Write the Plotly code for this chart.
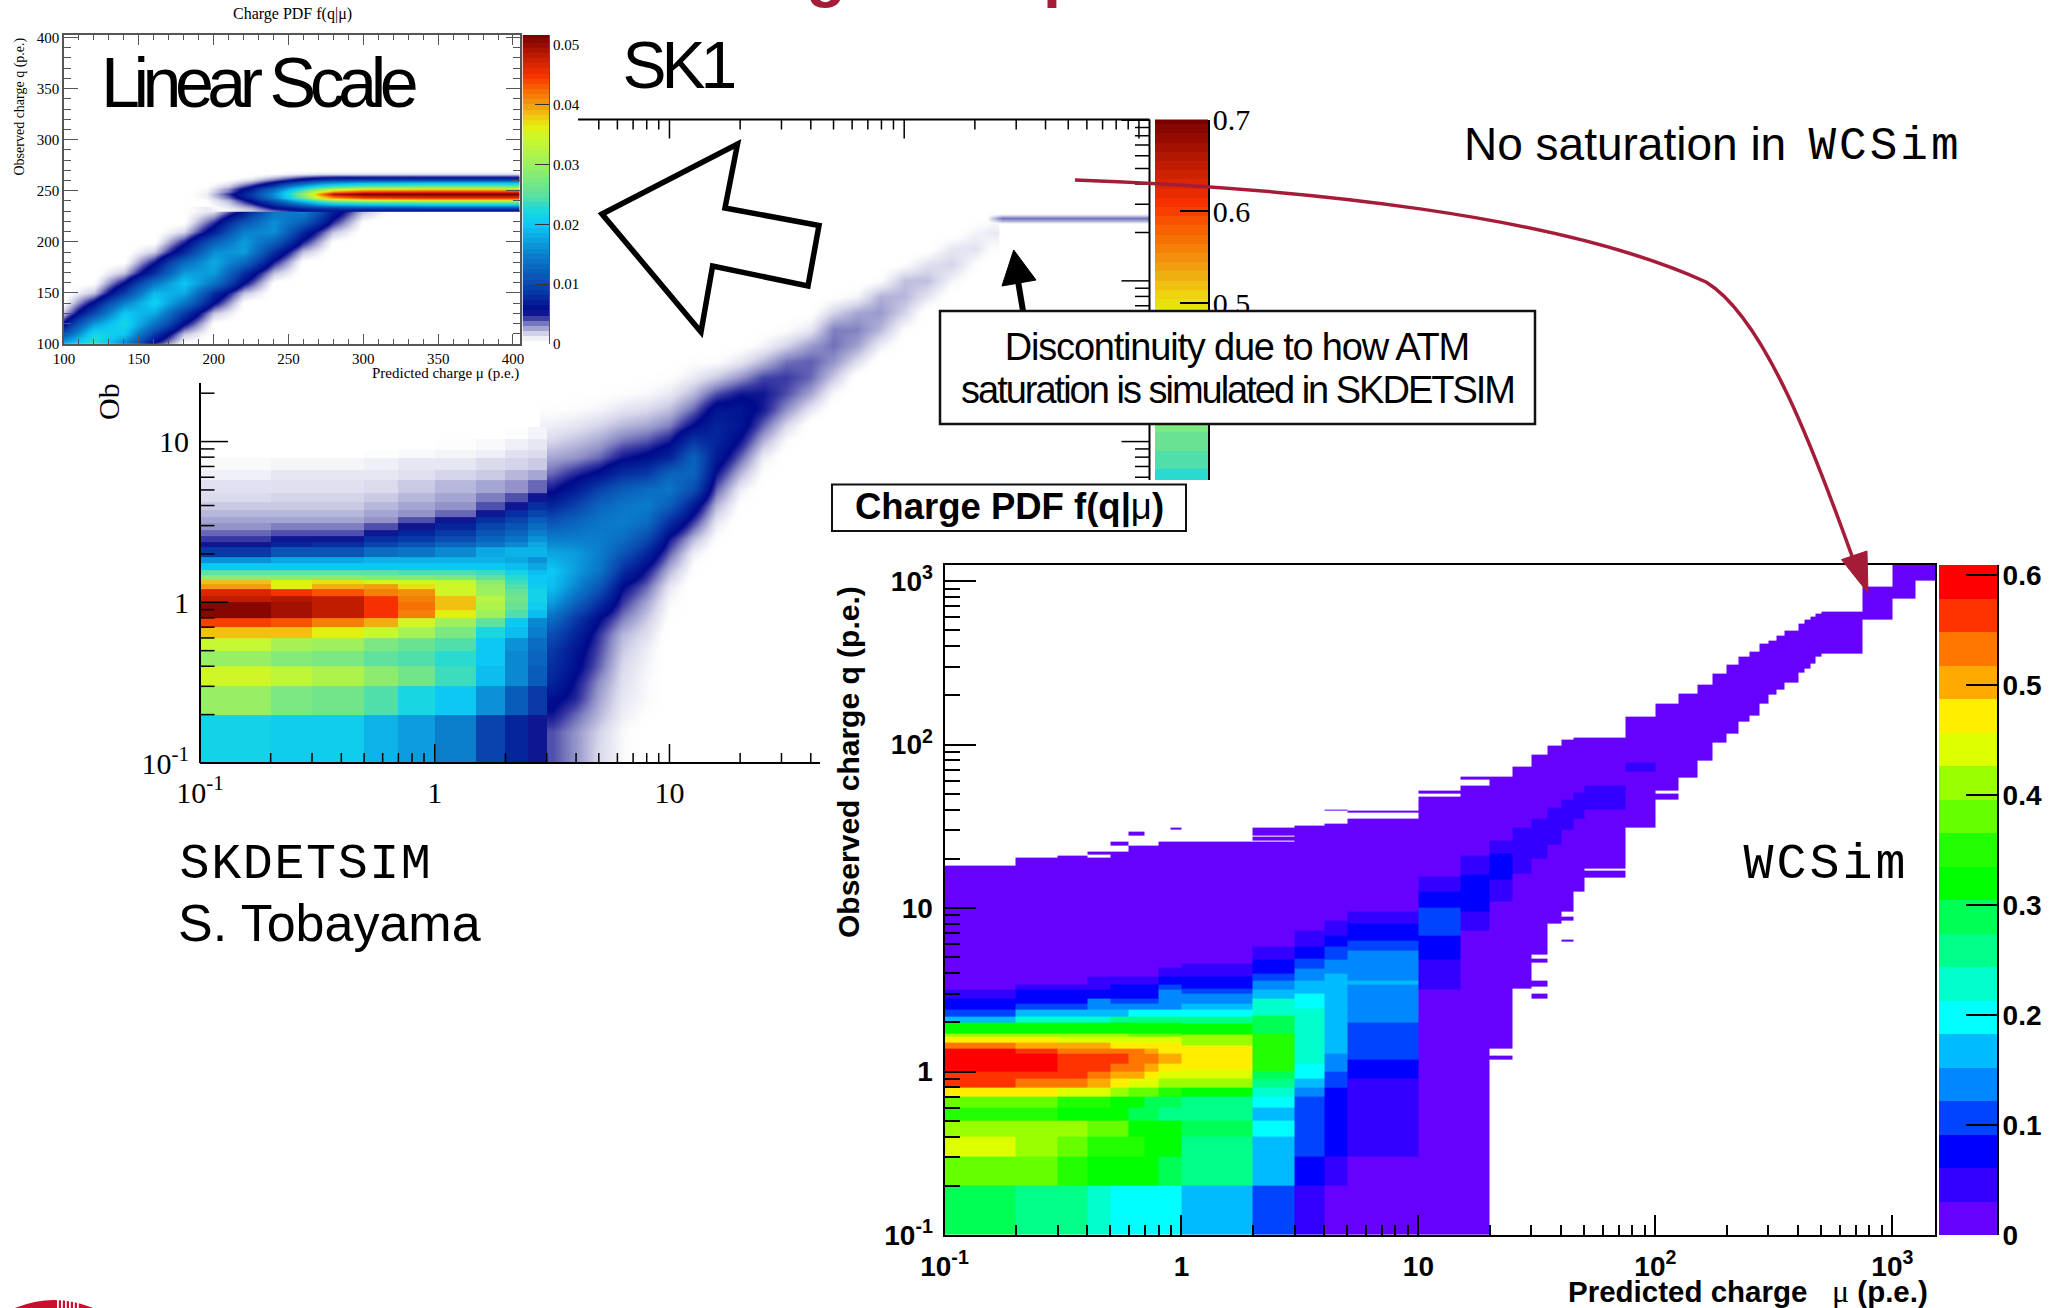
import numpy as np
import plotly.graph_objects as go

W, H = 2058, 1308

# ---------- linear-scale SK1 panel ----------
A_LOW_MU = [100,120,140,160,180,200,220,240,260,280,300,320]
A_LOW_Q = [100,110,120,130,140,150,160,170,180,190,200,210,220,229.5]
A_LOW_Z = [
 [.019,.024,.015,.005,.0002,0,0,0,0,0,0,0],
 [.011,.022,.020,.009,.002,0,0,0,0,0,0,0],
 [.006,.017,.022,.014,.0055,.0002,0,0,0,0,0,0],
 [.002,.010,.020,.018,.009,.002,0,0,0,0,0,0],
 [.0003,.006,.015,.021,.014,.0055,.0002,0,0,0,0,0],
 [0,.002,.009,.019,.018,.008,.002,0,0,0,0,0],
 [0,.0003,.0055,.014,.02,.014,.0055,.0002,0,0,0,0],
 [0,0,.002,.008,.017,.017,.008,.002,0,0,0,0],
 [0,0,.0002,.005,.013,.018,.013,.005,.0002,0,0,0],
 [0,0,0,.0018,.0075,.016,.017,.008,.002,0,0,0],
 [0,0,0,.0002,.0048,.012,.017,.012,.005,.0003,0,0],
 [0,0,0,0,.0016,.007,.015,.016,.0075,.002,0,0],
 [0,0,0,0,.0002,.0045,.011,.016,.012,.0048,.0004,0],
 [0,0,0,0,.0002,.0015,.0065,.014,.015,.007,.002,0],
]
A_HIGH_MU = [180,195,210,225,240,250,260,270,280,300,340,404]
A_HIGH_Q = [230.5,233,236.5,239,241,243,247,249.5,252,254,257.6,261,264,267,272]
A_HIGH_Z = [
 [0,.0001,.0007,.0018,.0035,.0045,.0055,.006,.006,.0058,.0055,.0055],
 [0,.0001,.001,.0025,.0055,.0065,.008,.009,.0095,.01,.01,.01],
 [0,.0003,.0015,.004,.0075,.010,.013,.016,.018,.019,.02,.02],
 [0,.0004,.002,.0055,.010,.014,.018,.022,.025,.026,.027,.027],
 [0,.0005,.0025,.0065,.012,.017,.022,.027,.031,.035,.037,.037],
 [0,.0008,.0035,.008,.015,.021,.027,.035,.04,.044,.045,.045],
 [0,.001,.0045,.009,.016,.022,.029,.04,.049,.052,.052,.052],
 [0,.0008,.0035,.008,.015,.021,.027,.035,.041,.045,.046,.046],
 [0,.0006,.003,.007,.013,.018,.023,.028,.032,.036,.037,.037],
 [0,.0004,.002,.0055,.010,.015,.019,.023,.025,.027,.028,.028],
 [0,.0002,.001,.003,.006,.009,.012,.015,.017,.019,.02,.02],
 [0,0,.0004,.0015,.0035,.005,.0065,.0085,.0095,.01,.01,.01],
 [0,0,.0001,.0006,.0018,.0028,.0038,.0045,.005,.005,.005,.005],
 [0,0,0,.0002,.0005,.0008,.001,.0012,.0012,.0012,.0012,.0012],
 [0,0,0,0,0,0,0,0,0,0,0,0],
]

# ---------- SK1 log panel: coarse low-charge bins ----------
B_LOW_X = [.1,.2,.3,.5,.7,1,1.5,2,2.5,3]
B_LOW_Q = [.1,.2,.3,.4,.5,.6,.7,.8,.9,1,1.1,1.2,1.3,1.38,1.47,1.58,1.76,1.92,2.21,2.37,2.57,2.81,3.09,3.4,3.74,4.2,4.75,5.75,6.63,7.85,8.84,10.4,12.3]
B_LOW_Z = [
 [.29,.28,.28,.25,.23,.20,.13,.10,.07],
 [.40,.37,.36,.33,.30,.27,.22,.16,.12],
 [.47,.45,.43,.39,.36,.32,.26,.21,.16],
 [.40,.38,.37,.34,.33,.31,.27,.21,.17],
 [.46,.42,.41,.37,.35,.33,.27,.22,.18],
 [.52,.52,.49,.46,.42,.37,.30,.26,.20],
 [.60,.59,.56,.53,.47,.41,.34,.27,.21],
 [.69,.67,.65,.61,.56,.49,.41,.33,.26],
 [.69,.67,.65,.61,.57,.52,.43,.35,.28],
 [.65,.66,.65,.61,.56,.52,.44,.36,.29],
 [.63,.61,.59,.56,.55,.47,.41,.35,.29],
 [.54,.49,.53,.54,.50,.47,.40,.33,.28],
 [.52,.49,.50,.48,.47,.46,.39,.32,.27],
 [.39,.39,.39,.38,.38,.37,.34,.31,.27],
 [.34,.34,.34,.34,.33,.33,.32,.29,.26],
 [.27,.27,.27,.27,.27,.27,.27,.26,.24],
 [.22,.24,.24,.25,.25,.25,.25,.24,.22],
 [.12,.15,.15,.18,.19,.21,.24,.25,.25],
 [.07,.10,.11,.13,.15,.17,.19,.21,.24],
 [.06,.07,.07,.11,.12,.14,.17,.19,.22],
 [.05,.055,.055,.07,.10,.12,.15,.17,.20],
 [.04,.045,.045,.055,.07,.10,.13,.15,.18],
 [.035,.035,.035,.04,.055,.07,.11,.13,.16],
 [.03,.03,.03,.035,.04,.05,.07,.11,.13],
 [.025,.025,.025,.03,.035,.04,.055,.07,.11],
 [.02,.022,.022,.025,.03,.035,.045,.055,.07],
 [.018,.018,.018,.02,.025,.03,.035,.04,.05],
 [.012,.015,.015,.015,.018,.022,.025,.03,.035],
 [.008,.01,.01,.012,.015,.015,.02,.022,.025],
 [0,0,0,.006,.008,.01,.012,.018,.02],
 [0,0,0,0,0,.005,.008,.012,.015],
 [0,0,0,0,0,0,0,.005,.01],
]
# SK1 log panel: diagonal band, one profile per predicted charge (mu, first row index, values)
B_BAND_Q = [.1,.126,.158,.2,.251,.316,.398,.501,.631,.794,1,1.26,1.58,2,2.51,3.16,3.98,5.01,6.31,7.94,10,12.6,15.8,20,25.1,31.6,39.8,50.1,63.1,79.4,100,126,158,200,251,316]
B_BAND_COLS = [
 (3.16,0,[.055,.055,.055,.07,.08,.10,.11,.12,.14,.18,.23,.26,.27,.24,.20,.15,.10,.07,.05,.035,.022,.012,.005]),
 (3.98,0,[.04,.04,.04,.05,.065,.07,.08,.085,.10,.12,.17,.21,.23,.23,.20,.17,.13,.09,.065,.04,.028,.016,.007,.002]),
 (5.01,0,[.02,.02,.022,.03,.035,.04,.05,.055,.06,.075,.11,.15,.19,.20,.20,.19,.17,.13,.08,.05,.035,.022,.01,.003]),
 (6.31,0,[.008,.008,.008,.012,.015,.018,.02,.025,.03,.045,.06,.075,.11,.15,.18,.20,.19,.16,.11,.07,.048,.03,.016,.006,.001]),
 (7.94,3,[.005,.008,.008,.01,.012,.018,.025,.035,.05,.07,.10,.14,.18,.20,.18,.12,.08,.055,.035,.02,.008,.003]),
 (10,9,[.004,.008,.015,.03,.05,.07,.11,.16,.19,.17,.10,.07,.045,.028,.014,.005]),
 (12.6,12,[.004,.012,.03,.06,.09,.14,.17,.17,.12,.075,.05,.03,.014,.005]),
 (15.8,14,[.005,.015,.03,.05,.07,.09,.10,.10,.085,.055,.025,.006]),
 (20,16,[.004,.012,.03,.05,.07,.085,.085,.07,.04,.015,.003]),
 (25.1,18,[.004,.012,.03,.05,.068,.07,.058,.03,.01,.002]),
 (31.6,20,[.006,.02,.04,.055,.06,.048,.022,.006]),
 (39.8,22,[.015,.035,.05,.052,.038,.015,.003]),
 (50.1,23,[.008,.025,.04,.048,.045,.022,.004]),
 (63.1,25,[.018,.036,.044,.035,.01]),
 (79.4,26,[.012,.03,.038,.032,.006]),
 (100,27,[.006,.022,.03,.028,.006]),
 (126,29,[.016,.028,.018,.002]),
 (158,30,[.01,.022,.015,.001]),
 (200,31,[.006,.017,.01]),
 (234,32,[.006,.014,.004]),
]
B_SAT_X = [222,234,260,1110]
B_SAT_Q = [225,236,245,253,263]
B_SAT_Z = [[0,0,0,0],[0,.014,.03,.03],[0,.022,.048,.048],[0,.014,.03,.03],[0,0,0,0]]

# ---------- WCSim panel ----------
C_LOW_MU = [.1,.2,.3,.4,.5,.6,.7,.8,1]
C_LOW_Q = [.1,.2,.3,.4,.5,.6,.7,.8,.91,1,1.12,1.29,1.38,1.5,1.63,1.71,1.98,2.18,2.39,2.6,2.8,3.15,3.4,3.8,4.3]
C_LOW_TOP = [18.2,20.4,21,20.3,22.2,24.2,24.2,25.4]
C_LOW_Z = [
 [.29,.26,.26,.23,.2,.2,.2,.2],
 [.38,.38,.35,.32,.32,.32,.32,.29],
 [.44,.41,.38,.35,.35,.35,.32,.32],
 [.41,.41,.41,.38,.38,.32,.32,.32],
 [.35,.35,.32,.32,.32,.29,.29,.26],
 [.38,.38,.35,.35,.32,.32,.29,.29],
 [.47,.47,.44,.44,.41,.38,.38,.35],
 [.56,.53,.53,.50,.47,.44,.44,.41],
 [.56,.56,.56,.53,.50,.50,.47,.44],
 [.59,.59,.56,.56,.53,.53,.50,.47],
 [.59,.59,.56,.56,.56,.53,.53,.50],
 [.59,.56,.53,.53,.53,.53,.50,.47],
 [.53,.50,.50,.50,.47,.47,.47,.47],
 [.47,.47,.44,.44,.44,.44,.44,.44],
 [.41,.41,.41,.41,.41,.38,.38,.38],
 [.32,.32,.32,.32,.32,.32,.32,.32],
 [.17,.23,.23,.23,.26,.26,.26,.26],
 [.11,.17,.17,.17,.17,.2,.2,.2],
 [.076,.11,.11,.14,.14,.14,.14,.14],
 [.076,.076,.076,.14,.11,.11,.11,.14],
 [.045,.076,.076,.076,.076,.076,.076,.14],
 [.015,.045,.045,.045,.076,.076,.076,.11],
 [.015,.015,.015,.045,.045,.045,.045,.076],
 [.015,.015,.015,.015,.015,.015,.015,.045],
 [.015,.015,.015,.015,.015,.015,.015,.015],
]
C_SEGMENTS = [
 (1,2,[.1,.2,.3,.4,.5,.7,.8,.91,1.02,1.45,1.67,1.97,2.18,2.39,2.6,3,3.2,3.8,4.6,25.4],
  [.17,.26,.26,.29,.26,.32,.41,.44,.47,.41,.32,.26,.2,.17,.14,.11,.076,.045,.015]),
 (2,3,[.1,.2,.4,.5,.6,.7,.8,.9,1,1.71,2.2,2.8,3.15,3.6,3.97,4.86,5.8,31],
  [.11,.17,.2,.17,.2,.23,.26,.29,.35,.29,.23,.17,.14,.11,.076,.045,.015]),
 (3,4,[.1,.2,.3,.7,.8,.9,1.11,2.43,3,3.6,4.26,4.9,5.8,7.3,32],
  [.045,.076,.11,.14,.17,.2,.23,.2,.17,.14,.11,.076,.045,.015]),
 (4,5,[.1,.2,.3,.8,1,1.29,3.97,4.86,5.8,6.82,8.4,33],
  [.015,.045,.076,.11,.14,.17,.14,.11,.076,.045,.015]),
 (5,10,[.1,.3,.91,1.19,2,3.4,3.6,5.5,6.3,8,9.5,35],
  [.015,.045,.076,.11,.14,.17,.14,.11,.076,.045,.015]),
 (10,15,[.1,3.18,4.86,6.82,10,12.6,15.5,48],[.015,.045,.076,.11,.076,.045,.015]),
 (15,20,[.1,7.3,9.5,16,21,56],[.015,.045,.076,.045,.015]),
 (20,25,[1.38,11,15,21.5,26,64],[.015,.045,.076,.045,.015]),
 (25,30,[3.2,16.3,31,73],[.015,.045,.015]),
 (30,35,[5.2,20,35,86.5],[.015,.045,.015]),
 (35,40,[8,24.5,41,98],[.015,.045,.015]),
 (40,45,[9.5,30,46,107],[.015,.045,.015]),
 (45,50,[12.6,35,51,111],[.015,.045,.015]),
 (50,75,[15.4,40,56,111],[.015,.045,.015]),
 (75,100,[31,68,78,148],[.015,.045,.015]),
]
C_TAIL_MU = [100,125,150,175,200,225,250,275,300,325,350,400,425,450,475,500,750,1000,1250,1520]
C_TAIL_LO = [46,62.5,80,103,116,138,150,178,202,216,240,275,291,312,344,358,583,785,1007]
C_TAIL_HI = [178,206,234,272,309,344,368,417,431,462,495,550,580,608,630,652,927,1260,1260]
C_ISLANDS = [(.4,.6,21.3,22.2),(.5,.6,24.2,25.4),(.6,.7,27.9,29.4),(.9,1,30.1,31),(3,5,36.5,37),(4,5,39.3,40),
             (5,10,38.5,39.2),(10,15,50,52),(15,20,61,64),(20,25,1.19,1.25),(30,35,4.66,4.9),(30,35,3.3,3.6),
             (30,35,2.8,3.0),(40,45,8.4,8.8),(40,45,6.2,6.4)]
C_GAPS = [(2,3,27.2,27.8),(2,3,25.5,26),(100,125,50,52),(50,75,17,17.5)]
C_BAND_COLORS = ["#6600ff","#3300ff","#0000ff","#0044ff","#0088ff","#00bbff","#00ffff","#00ffcc","#00ff88","#00ff55",
                 "#00ff00","#22ff00","#66ff00","#99ff00","#ddff00","#ffee00","#ffaa00","#ff7700","#ff3300","#ff0000"]
C_MAX = 0.6095
CB_C_LEVELS = [.015,.045,.076,.107,.137,.168,.198,.229,.259,.29,.32,.35,.38,.41,.44,.47,.50,.53,.56,.59]

JET = [[0,"rgba(255,255,255,0)"],[.01,"#fbfbfd"],[.03,"#d8d8ec"],[.06,"#8c8cc6"],[.085,"#3a3aa4"],[.105,"#000a8c"],
       [.19,"#0a46ae"],[.29,"#0a80cc"],[.385,"#0cc8f5"],[.43,"#18d8e0"],[.48,"#5ce0a0"],[.58,"#9bf060"],[.66,"#c8f830"],
       [.70,"#e0f010"],[.73,"#f0d010"],[.77,"#f0a010"],[.83,"#f86000"],[.87,"#f83000"],[.92,"#c82000"],[1,"#7a0000"]]
RAINBOW = []
for i, c in enumerate(C_BAND_COLORS):
    RAINBOW += [[i/20, c], [(i+1)/20, c]]

A_MAX, B_MAX = 0.0517, 0.7
CB_A_VALUES = [round(i*0.0517/60, 5) for i in range(61)]
CB_B_VALUES = [.31,.33,.35,.37,.39,.41,.43,.45,.47,.49,.50,.51,.52,.53,.54,.55,.56,.57,.58,.59,.60,.61,.62,.63,.64,.65,.66,.67,.68,.69,.70]

RED = "#a51c38"
SERIF, SANS, MONO = "Liberation Serif", "Liberation Sans", "Liberation Mono"

def dx(a, b): return [a/W, b/W]
def dy(top, bot): return [1-bot/H, 1-top/H]
def px(x): return x/W
def py(y): return 1-y/H

fig = go.Figure()

# ---- SK1 log panel (axis x / y) ----
z2 = np.zeros((len(B_BAND_Q), len(B_BAND_COLS)))
for j, (mu, i0, vals) in enumerate(B_BAND_COLS):
    z2[i0:i0+len(vals), j] = vals
fig.add_trace(go.Heatmap(x=[c[0] for c in B_BAND_COLS], y=B_BAND_Q, z=z2.tolist(), zsmooth="best", colorscale=JET,
                         zmin=0, zmax=B_MAX, showscale=False, xaxis="x", yaxis="y"))
fig.add_trace(go.Heatmap(x=B_SAT_X, y=B_SAT_Q, z=B_SAT_Z, zsmooth="best", colorscale=JET, zmin=0, zmax=B_MAX,
                         showscale=False, xaxis="x", yaxis="y"))
fig.add_trace(go.Heatmap(x=B_LOW_X, y=B_LOW_Q, z=B_LOW_Z, colorscale=JET, zmin=0, zmax=B_MAX, showscale=False,
                         xaxis="x", yaxis="y"))
# SK1 colour bar
fig.add_trace(go.Heatmap(x=[0, 1], y=CB_B_VALUES, z=[[v] for v in CB_B_VALUES], colorscale=JET, zmin=0, zmax=B_MAX,
                         showscale=False, xaxis="x2", yaxis="y2"))
# ---- linear panel ----
fig.add_trace(go.Heatmap(x=A_LOW_MU, y=A_LOW_Q, z=A_LOW_Z, zsmooth="best", colorscale=JET, zmin=0, zmax=A_MAX,
                         showscale=False, xaxis="x3", yaxis="y3"))
fig.add_trace(go.Heatmap(x=A_HIGH_MU, y=A_HIGH_Q, z=A_HIGH_Z, zsmooth="best", colorscale=JET, zmin=0, zmax=A_MAX,
                         showscale=False, xaxis="x3", yaxis="y3"))
fig.add_trace(go.Heatmap(x=[0, 1], y=CB_A_VALUES, z=[[v] for v in CB_A_VALUES], colorscale=JET, zmin=0, zmax=A_MAX,
                         showscale=False, xaxis="x4", yaxis="y4"))

# ---- WCSim panel: collect segments into one grid ----
segs = []
for j in range(8):
    edges = C_LOW_Q + [C_LOW_TOP[j]]
    segs.append((C_LOW_MU[j], C_LOW_MU[j+1], edges, [row[j] for row in C_LOW_Z]))
segs += C_SEGMENTS
for k in range(len(C_TAIL_LO)):
    segs.append((C_TAIL_MU[k], C_TAIL_MU[k+1], [C_TAIL_LO[k], C_TAIL_HI[k]], [.015]))
for a, b, lo, hi in C_ISLANDS:
    segs.append((a, b, [lo, hi], [.015]))
for a, b, lo, hi in C_GAPS:
    segs.append((a, b, [lo, hi], [None]))
xs = sorted({s[0] for s in segs} | {s[1] for s in segs})
ys = sorted({e for s in segs for e in s[2]})
zc = np.full((len(ys)-1, len(xs)-1), np.nan)
xa, ya = np.array(xs), np.array(ys)
for a, b, edges, vals in segs:
    ci = np.where((xa[:-1] >= a) & (xa[1:] <= b))[0]
    for n, v in enumerate(vals):
        ri = np.where((ya[:-1] >= edges[n]) & (ya[1:] <= edges[n+1]))[0]
        for r in ri:
            for c in ci:
                zc[r, c] = np.nan if v is None else v
zc_list = [[None if np.isnan(v) else float(v) for v in row] for row in zc]
fig.add_trace(go.Heatmap(x=xs, y=ys, z=zc_list, colorscale=RAINBOW, zmin=0, zmax=C_MAX, showscale=False,
                         xaxis="x5", yaxis="y5", hoverongaps=False))
fig.add_trace(go.Heatmap(x=[0, 1], y=[round(i*C_MAX/20, 4) for i in range(21)], z=[[v] for v in CB_C_LEVELS],
                         colorscale=RAINBOW, zmin=0, zmax=C_MAX, showscale=False, xaxis="x6", yaxis="y6"))

# ---- ticks of the SK1 log panel are drawn partially, the panel is overlaid in the slide ----
shapes = []
def line(x0, y0, x1, y1, xref="paper", yref="paper", color="black", width=1.5):
    shapes.append(dict(type="line", x0=x0, y0=y0, x1=x1, y1=y1, xref=xref, yref=yref,
                       line=dict(color=color, width=width)))

BOT, TOP, LEFT, RIGHT = 763, 119.5, 200, 1149.5
line(px(LEFT), py(383), px(LEFT), py(BOT), width=2)
line(px(LEFT), py(BOT), px(820), py(BOT), width=2)
line(px(578), py(TOP), px(RIGHT), py(TOP), width=2)
line(px(RIGHT), py(TOP), px(RIGHT), py(480), width=2)
B_Y_LEFT_MAJOR = [1, 10]
B_Y_LEFT_MINOR = [.2,.3,.4,.5,.6,.7,.8,.9,2,3,4,5,6,7,8,9,20]
B_X_BOT_MAJOR = [1, 10]
B_X_BOT_MINOR = [.2,.3,.4,.5,.6,.7,.8,.9,2,3,4,5,6,7,8,9,20,30,40]
B_X_TOP_MAJOR = [10, 100, 1000]
B_X_TOP_MINOR = [5,6,7,8,9,20,30,40,50,60,70,80,90,200,300,400,500,600,700,800,900]
B_Y_RIGHT_MAJOR = [10, 100, 1000]
B_Y_RIGHT_MINOR = [6,7,8,9,20,30,40,50,60,70,80,90,200,300,400,500,600,700,800,900]
for v in B_Y_LEFT_MAJOR: line(px(LEFT), v, px(LEFT+28), v, yref="y")
for v in B_Y_LEFT_MINOR: line(px(LEFT), v, px(LEFT+14.5), v, yref="y")
for v in B_X_BOT_MAJOR: line(v, py(BOT), v, py(BOT-19), xref="x")
for v in B_X_BOT_MINOR: line(v, py(BOT), v, py(BOT-10), xref="x")
for v in B_X_TOP_MAJOR: line(v, py(TOP), v, py(TOP+19), xref="x")
for v in B_X_TOP_MINOR: line(v, py(TOP), v, py(TOP+10), xref="x")
for v in B_Y_RIGHT_MAJOR: line(px(RIGHT), v, px(RIGHT-28), v, yref="y")
for v in B_Y_RIGHT_MINOR: line(px(RIGHT), v, px(RIGHT-14.5), v, yref="y")

def poly(pts, fill, lw, color="black"):
    d = "M " + " L ".join(f"{px(x):.5f},{py(y):.5f}" for x, y in pts) + " Z"
    shapes.append(dict(type="path", path=d, xref="paper", yref="paper", fillcolor=fill, line=dict(color=color, width=lw)))

# hollow arrow, black arrow, boxes, curve, logo
poly([(602,214),(737.5,144),(725,208),(819,225.5),(808,286),(712.6,266),(701,332)], "white", 5.5)
line(px(1023), py(311), px(1017), py(275), width=6)
poly([(1013.7,250),(1002,286),(1036,280)], "black", 1)
shapes.append(dict(type="rect", x0=px(940), x1=px(1535), y0=py(424), y1=py(311), xref="paper", yref="paper",
                   fillcolor="white", line=dict(color="#111111", width=2.5)))
shapes.append(dict(type="rect", x0=px(832), x1=px(1186), y0=py(531), y1=py(484.5), xref="paper", yref="paper",
                   fillcolor="white", line=dict(color="#111111", width=2)))
d = (f"M {px(1075):.5f},{py(180):.5f} C {px(1300):.5f},{py(188):.5f} {px(1560):.5f},{py(215):.5f} {px(1706):.5f},{py(282):.5f} "
     f"C {px(1765):.5f},{py(318):.5f} {px(1815):.5f},{py(452):.5f} {px(1857):.5f},{py(570):.5f}")
shapes.append(dict(type="path", path=d, xref="paper", yref="paper", line=dict(color=RED, width=3.5)))
poly([(1868,593),(1841.5,559.6),(1867,551)], RED, 1, RED)
shapes.append(dict(type="circle", x0=px(-45), x1=px(153), y0=py(1498), y1=py(1300), xref="paper", yref="paper",
                   fillcolor="#c8102e", line=dict(width=0)))
LOGO_STRIPES = [57,61,65,69,73,77]
for s in LOGO_STRIPES:
    shapes.append(dict(type="rect", x0=px(s), x1=px(s+1.8), y0=py(1308), y1=py(1298), xref="paper", yref="paper",
                       fillcolor="white", line=dict(width=0)))

# ---- text ----
ann = []
def T(text, x, y, size, font=SANS, color="black", xa="center", ya="middle", angle=0):
    ann.append(dict(text=text, x=px(x), y=py(y), xref="paper", yref="paper", showarrow=False, xanchor=xa, yanchor=ya,
                    textangle=angle, font=dict(family=font, size=size, color=color), borderpad=0))

T("<b>Charge Comparison</b>", 967, 10, 64.6, color=RED, ya="bottom")
T("Charge PDF f(q|μ)", 292, 14, 16, SERIF)
T("Observed charge q (p.e.)", 19.5, 107, 14, SERIF, angle=-90)
T("Predicted charge μ (p.e.)", 520, 373, 15, SERIF, xa="right")
T("Linear Scale", 256, 83, 70)
T("SK1", 677, 65, 66)
T("Ob", 108, 402, 30, SERIF, angle=-90)
T("No saturation in", 1463, 144, 46, xa="left")
T("WCSim", 1815, 147, 46, MONO, xa="left")
T("SKDETSIM", 185, 864, 50, MONO, xa="left")
T("S. Tobayama", 177, 923, 52, xa="left")
T("WCSim", 1750, 864, 50, MONO, xa="left")
T("Discontinuity due to how ATM", 1237, 347, 38)
T("saturation is simulated in SKDETSIM", 1237, 390, 38)
T("<b>Charge PDF f(q|</b>μ<b>)</b>", 1009, 507, 36.5)
T("<b>Observed charge q (p.e.)</b>", 849, 762, 30, angle=-90)
T("<b>Predicted charge</b>\u00a0\u00a0\u00a0<span style='font-family:Liberation Serif;font-size:32px'>μ</span> <b>(p.e.)</b>", 1929, 1291, 29.5, xa="right")

LOG_LABELS_X = ["10<sup>-1</sup>", "1", "10"]
serif30 = dict(family=SERIF, size=30, color="black")
sans_b = dict(family=SANS, size=28, color="black", weight="bold")
A_TICKS = [100,150,200,250,300,350,400]
A_MINOR = [110,120,130,140,160,170,180,190,210,220,230,240,260,270,280,290,310,320,330,340,360,370,380,390]
C_MINOR_DECADES = [.2,.3,.4,.5,.6,.7,.8,.9,2,3,4,5,6,7,8,9,20,30,40,50,60,70,80,90,200,300,400,500,600,700,800,900]
GR = "#555555"
layout_axes = dict(
    xaxis=dict(domain=dx(LEFT, RIGHT), type="log", range=[-1, 3.045], tickmode="array", tickvals=[.1, 1, 10], ticktext=LOG_LABELS_X,
               tickfont=serif30, showgrid=False, zeroline=False, showline=False, ticks="", anchor="y", ticklabelstandoff=9),
    yaxis=dict(domain=dy(TOP, BOT), type="log", range=[-1, 3.004], tickmode="array", tickvals=[.1, 1, 10], ticktext=LOG_LABELS_X,
               tickfont=serif30, showgrid=False, zeroline=False, showline=False, ticks="", anchor="x", ticklabelstandoff=10),
    xaxis2=dict(domain=dx(1155, 1208), range=[0, 1], visible=False, anchor="y2"),
    yaxis2=dict(domain=dy(119.5, 480), range=[.308, .7], side="right", anchor="x2", tickmode="array", tickvals=[.4, .5, .6, .7],
                ticktext=["0.4", "0.5", "0.6", "0.7"], tickfont=serif30, ticks="inside", ticklen=28, tickwidth=1.5, tickcolor="black",
                showgrid=False, zeroline=False, showline=True, linecolor="black", linewidth=1.5, ticklabelstandoff=-3),
    xaxis3=dict(domain=dx(64, 520), range=[100, 404.7], tickmode="array", tickvals=A_TICKS, tickfont=dict(family=SERIF, size=15, color="black"),
                ticks="inside", ticklen=10, tickwidth=1, tickcolor=GR, minor=dict(tickvals=A_MINOR, ticks="inside", ticklen=5, tickwidth=1, tickcolor=GR),
                mirror="allticks", showline=True, linecolor=GR, linewidth=1.5, showgrid=False, zeroline=False, anchor="y3"),
    yaxis3=dict(domain=dy(35, 344), range=[100, 402.5], tickmode="array", tickvals=A_TICKS, tickfont=dict(family=SERIF, size=15, color="black"),
                ticks="inside", ticklen=14, tickwidth=1, tickcolor=GR, minor=dict(tickvals=A_MINOR, ticks="inside", ticklen=7, tickwidth=1, tickcolor=GR),
                mirror="allticks", showline=True, linecolor=GR, linewidth=1.5, showgrid=False, zeroline=False, anchor="x3"),
    xaxis4=dict(domain=dx(522.5, 549), range=[0, 1], visible=False, anchor="y4"),
    yaxis4=dict(domain=dy(35, 344), range=[0, .0517], side="right", anchor="x4", tickmode="array", tickvals=[0, .01, .02, .03, .04, .05],
                ticktext=["0", "0.01", "0.02", "0.03", "0.04", "0.05"], tickfont=dict(family=SERIF, size=15, color="black"), ticks="inside",
                ticklen=14, tickwidth=1, tickcolor="#333333", showgrid=False, zeroline=False, showline=True, linecolor=GR, linewidth=1),
    xaxis5=dict(domain=dx(944.5, 1935), type="log", range=[-1, 3.18], tickmode="array", tickvals=[.1, 1, 10, 100, 1000],
                ticktext=["10<sup>-1</sup>", "1", "10", "10<sup>2</sup>", "10<sup>3</sup>"], tickfont=sans_b, ticks="inside", ticklen=20, tickwidth=1.5,
                tickcolor="black", minor=dict(tickvals=C_MINOR_DECADES, ticks="inside", ticklen=10, tickwidth=1.5, tickcolor="black"),
                mirror=True, showline=True, linecolor="black", linewidth=2, showgrid=False, zeroline=False, anchor="y5", ticklabelstandoff=5),
    yaxis5=dict(domain=dy(565, 1235), type="log", range=[-1, 3.098], tickmode="array", tickvals=[.1, 1, 10, 100, 1000],
                ticktext=["10<sup>-1</sup>", "1", "10", "10<sup>2</sup>", "10<sup>3</sup>"], tickfont=sans_b, ticks="inside", ticklen=31, tickwidth=1.5,
                tickcolor="black", minor=dict(tickvals=C_MINOR_DECADES, ticks="inside", ticklen=15, tickwidth=1.5, tickcolor="black"),
                mirror=True, showline=True, linecolor="black", linewidth=2, showgrid=False, zeroline=False, anchor="x5", ticklabelstandoff=4),
    xaxis6=dict(domain=dx(1939, 1997), range=[0, 1], visible=False, anchor="y6"),
    yaxis6=dict(domain=dy(565, 1235), range=[0, C_MAX], side="right", anchor="x6", tickmode="array", tickvals=[0, .1, .2, .3, .4, .5, .6],
                ticktext=["0", "0.1", "0.2", "0.3", "0.4", "0.5", "0.6"], tickfont=sans_b, ticks="inside", ticklen=31, tickwidth=1.5, tickcolor="black",
                showgrid=False, zeroline=False, showline=True, linecolor="black", linewidth=2, ticklabelstandoff=-2),
)
for k, v in layout_axes.items():
    v["automargin"] = False
fig.update_layout(width=W, height=H, autosize=False, margin=dict(l=0, r=0, t=0, b=0, pad=0, autoexpand=False), paper_bgcolor="white",
                  plot_bgcolor="rgba(0,0,0,0)", showlegend=False, shapes=shapes, annotations=ann, **layout_axes)

POST = """
document.body.style.margin='0';document.documentElement.style.overflow='hidden';
var sp={'Linear Scale':'-6.5px','SK1':'-5px','Discontinuity due to how ATM':'-1.2px','saturation is simulated in SKDETSIM':'-2px','SKDETSIM':'1.6px','WCSim':'3px'};
document.querySelectorAll('.annotation-text').forEach(function(t){var s=sp[t.textContent];if(s){t.style.letterSpacing=s;}});
"""
fig.write_html("out.html", post_script=POST, config=dict(displayModeBar=False, responsive=False))
